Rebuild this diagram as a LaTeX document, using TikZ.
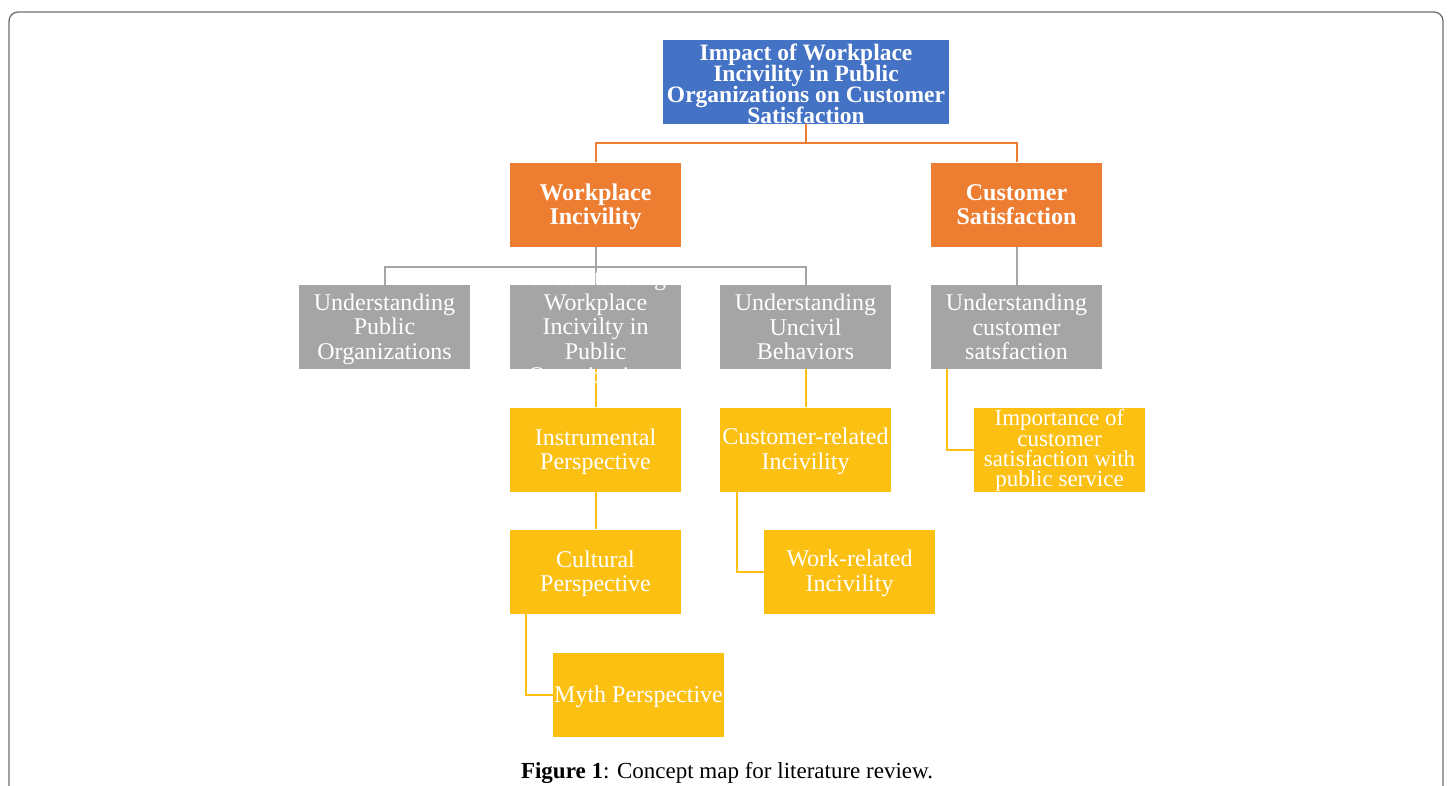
\documentclass[tikz,border=0pt]{standalone}
\usepackage{fontspec}
\setmainfont{Liberation Serif}
\definecolor{cblue}{HTML}{4472C4}
\definecolor{corange}{HTML}{ED7D31}
\definecolor{cgray}{HTML}{A5A5A5}
\definecolor{cgold}{HTML}{FCC013}
\definecolor{cframe}{HTML}{6E6E6E}
\tikzset{
  box/.style={rectangle, minimum width=171pt, minimum height=84pt, inner sep=0pt},
  bluebox/.style={box, fill=cblue, minimum width=286pt},
  orangebox/.style={box, fill=corange},
  graybox/.style={box, fill=cgray},
  goldbox/.style={box, fill=cgold},
  lbl/.style={inner sep=0pt, align=center, text=white, font=\fontsize{24}{24.5}\selectfont},
  blbl/.style={lbl, font=\bfseries\fontsize{23.5}{21}\selectfont},
  olbl/.style={lbl, font=\bfseries\fontsize{24}{24}\selectfont},
  slbl/.style={lbl, font=\fontsize{23}{20.3}\selectfont},
  oline/.style={draw=corange, line width=2pt},
  gline/.style={draw=cgray, line width=2pt},
  yline/.style={draw=cgold, line width=2pt},
}
\begin{document}
\setlength{\lineskiplimit}{-50pt}%
\begin{tikzpicture}[x=1pt,y=-1pt]
\useasboundingbox (0,0) rectangle (1451,785);
\begin{scope}
\clip (0,0) rectangle (1451,785);
\draw[cframe, line width=1.3pt, rounded corners=9pt] (9,12) rectangle (1443,820);
\end{scope}
% boxes
\node[bluebox] (top) at (806,82) {};
\node[orangebox] (wi) at (595.5,204.5) {};
\node[orangebox] (cs) at (1016.5,204.5) {};
\node[graybox] (g1) at (384.5,327) {};
\node[graybox] (g2) at (595.5,327) {};
\node[graybox] (g3) at (805.5,327) {};
\node[graybox] (g4) at (1016.5,327) {};
\node[goldbox] (ip) at (595.5,449.5) {};
\node[goldbox] (cr) at (805.5,449.5) {};
\node[goldbox] (imp) at (1059.5,449.5) {};
\node[goldbox] (cp) at (595.5,571.5) {};
\node[goldbox] (wr) at (849.5,571.5) {};
\node[goldbox] (mp) at (638.5,694.5) {};
% connectors
\draw[oline] (top.south) -- ++(0,19) coordinate (oj);
\draw[oline] (wi.north) |- (oj) -| (cs.north);
\draw[gline] (wi.south) -- ++(0,20) coordinate (gj);
\draw[gline] (g1.north) |- (gj) -| (g3.north);
\draw[gline] (gj) -- (g2.north);
\draw[gline] (cs.south) -- (g4.north);
\draw[yline] (g2.south) -- (ip.north);
\draw[yline] (ip.south) -- (cp.north);
\draw[yline] ([xshift=16pt]cp.south west) |- (mp.west);
\draw[yline] (g3.south) -- (cr.north);
\draw[yline] ([xshift=17pt]cr.south west) |- (wr.west);
\draw[yline] ([xshift=16pt]g4.south west) |- (imp.west);
% labels
\node[blbl] (topt) at ([yshift=-1.5pt]top.center) {Impact of Workplace\\Incivility in Public\\Organizations on Customer\\Satisfaction};
\node[olbl] (wit) at ([yshift=-2pt]wi.center) {Workplace\\Incivility};
\node[olbl] (cst) at (cs.center) {Customer\\Satisfaction};
\node[lbl] (g1t) at ([yshift=-2pt]g1.center) {Understanding\\Public\\Organizations};
\node[lbl] (g2t) at ([yshift=-2pt]g2.center) {Understanding\\Workplace\\Incivilty in\\Public\\Organizations};
\node[lbl] (g3t) at (g3.center) {Understanding\\Uncivil\\Behaviors};
\node[lbl] (g4t) at (g4.center) {Understanding\\customer\\satsfaction};
\node[lbl] (ipt) at ([yshift=-2pt]ip.center) {Instrumental\\Perspective};
\node[lbl] (crt) at ([yshift=-2pt]cr.center) {Customer-related\\Incivility};
\node[slbl] (impt) at ([yshift=-1pt]imp.center) {Importance of\\customer\\satisfaction with\\public service};
\node[lbl] (cpt) at ([yshift=-2pt]cp.center) {Cultural\\Perspective};
\node[lbl] (wrt) at ([yshift=-2pt]wr.center) {Work-related\\Incivility};
\node[lbl] (mpt) at ([yshift=-2pt]mp.center) {Myth Perspective};
% caption
\node[font=\fontsize{23}{24}\selectfont, inner sep=0pt] (cap) at (727,773) {\textbf{Figure 1}: Concept map for literature review.};
\end{tikzpicture}
\end{document}
